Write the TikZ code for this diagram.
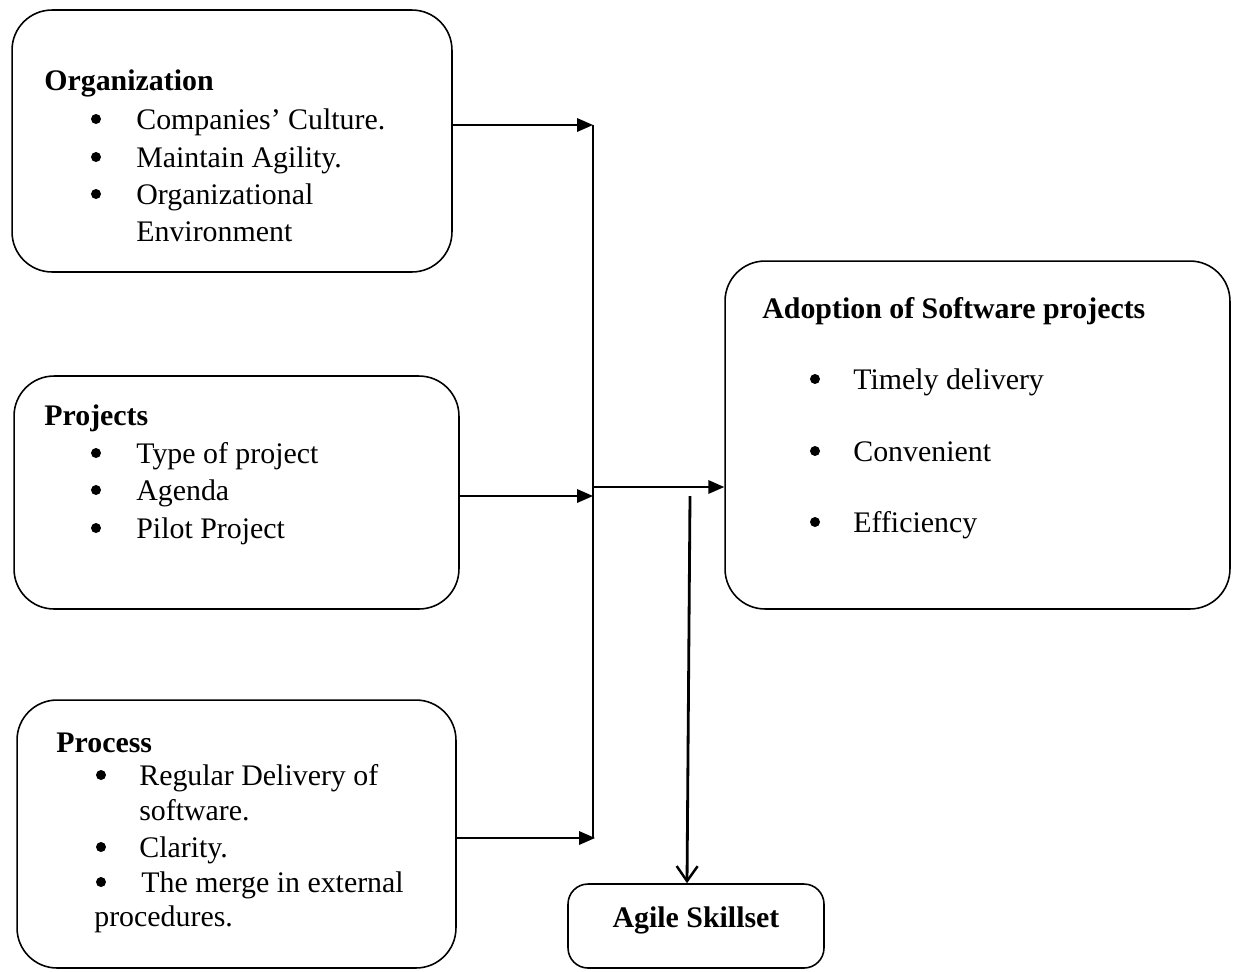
\documentclass[tikz,border=0pt]{standalone}
\usepackage{fontspec}
\setmainfont{Liberation Serif}
\usetikzlibrary{arrows.meta,calc}

\begin{document}
\begin{tikzpicture}[
  x=0.02cm, y=-0.02cm,
  font=\fontsize{17}{21}\selectfont,
  box/.style={draw, line width=0.9pt, rounded corners=0.8cm, inner sep=0pt},
  ttl/.style={font=\fontsize{17}{21}\selectfont\bfseries, anchor=base west, inner sep=0pt},
  itm/.style={anchor=base west, inner sep=0pt},
  arr/.style={-{Triangle[length=0.32cm, width=0.27cm]}, line width=1.1pt},
  darr/.style={-{Straight Barb[length=0.3cm, width=0.42cm, line width=1.4pt]}, line width=1.6pt},
]
  \useasboundingbox (0,0) rectangle (1233,971);

  % boxes
  \node[box, minimum width=8.8cm, minimum height=5.24cm] (org) at (232,141) {};
  \node[box, minimum width=8.9cm, minimum height=4.66cm] (proj) at (236.5,492.5) {};
  \node[box, minimum width=8.78cm, minimum height=5.36cm] (proc) at (236.5,834) {};
  \node[box, minimum width=10.1cm, minimum height=6.96cm] (adopt) at (977.5,435) {};
  \node[box, rounded corners=0.4cm, minimum width=5.12cm, minimum height=1.68cm] (agile) at (696,926) {};

  % organization
  \node[ttl] (orgt) at (44,90) {Organization};
  \node[itm] (org1) at (136,129) {Companies’ Culture.};
  \node[itm] (org2) at (136,167) {Maintain Agility.};
  \node[itm] (org3) at (136,204) {Organizational};
  \node[itm] (org4) at (136,241) {Environment};

  % projects
  \node[ttl] (projt) at (44,425) {Projects};
  \node[itm] (proj1) at (136,463) {Type of project};
  \node[itm] (proj2) at (136,500) {Agenda};
  \node[itm] (proj3) at (136,538) {Pilot Project};

  % process
  \node[ttl] (proct) at (56,752) {Process};
  \node[itm] (proc1) at (139,785) {Regular Delivery of};
  \node[itm] (proc2) at (139,820) {software.};
  \node[itm] (proc3) at (139,857) {Clarity.};
  \node[itm] (proc4) at (141,892) {The merge in external};
  \node[itm] (proc5) at (94,926) {procedures.};

  % adoption
  \node[ttl] (adoptt) at (762,318) {Adoption of Software projects};
  \node[itm] (ad1) at (853,389) {Timely delivery};
  \node[itm] (ad2) at (853,461) {Convenient};
  \node[itm] (ad3) at (853,532) {Efficiency};

  \node[font=\fontsize{17}{21}\selectfont\bfseries, anchor=base, inner sep=0pt] (agilet) at (696,927) {Agile Skillset};

  % bullets
  \foreach \bx/\by in {96/119, 96/157, 96/194, 96/453, 96/490, 96/528,
                       101/775, 101/847, 101/882, 815/379, 815/451, 815/522}
    \fill (\bx,\by) circle[radius=0.1cm];

  % connectors
  \coordinate (j1) at (593,125);
  \coordinate (j2) at (593,496);
  \coordinate (j3) at (595,838);
  \coordinate (j4) at (593,487);
  \coordinate (jb) at (593,838);
  \coordinate (d0) at (690,496);

  \draw[line width=1.1pt] (j1) -- (jb);
  \draw[arr] (org.east |- j1) -- (j1);
  \draw[arr] (proj.east |- j2) -- (j2);
  \draw[arr] (proc.east |- j3) -- (j3);
  \draw[arr] (j4) -- (adopt.west |- j4);
  \draw[darr] (d0) -- ([xshift=-0.18cm]agile.north);
\end{tikzpicture}
\end{document}
